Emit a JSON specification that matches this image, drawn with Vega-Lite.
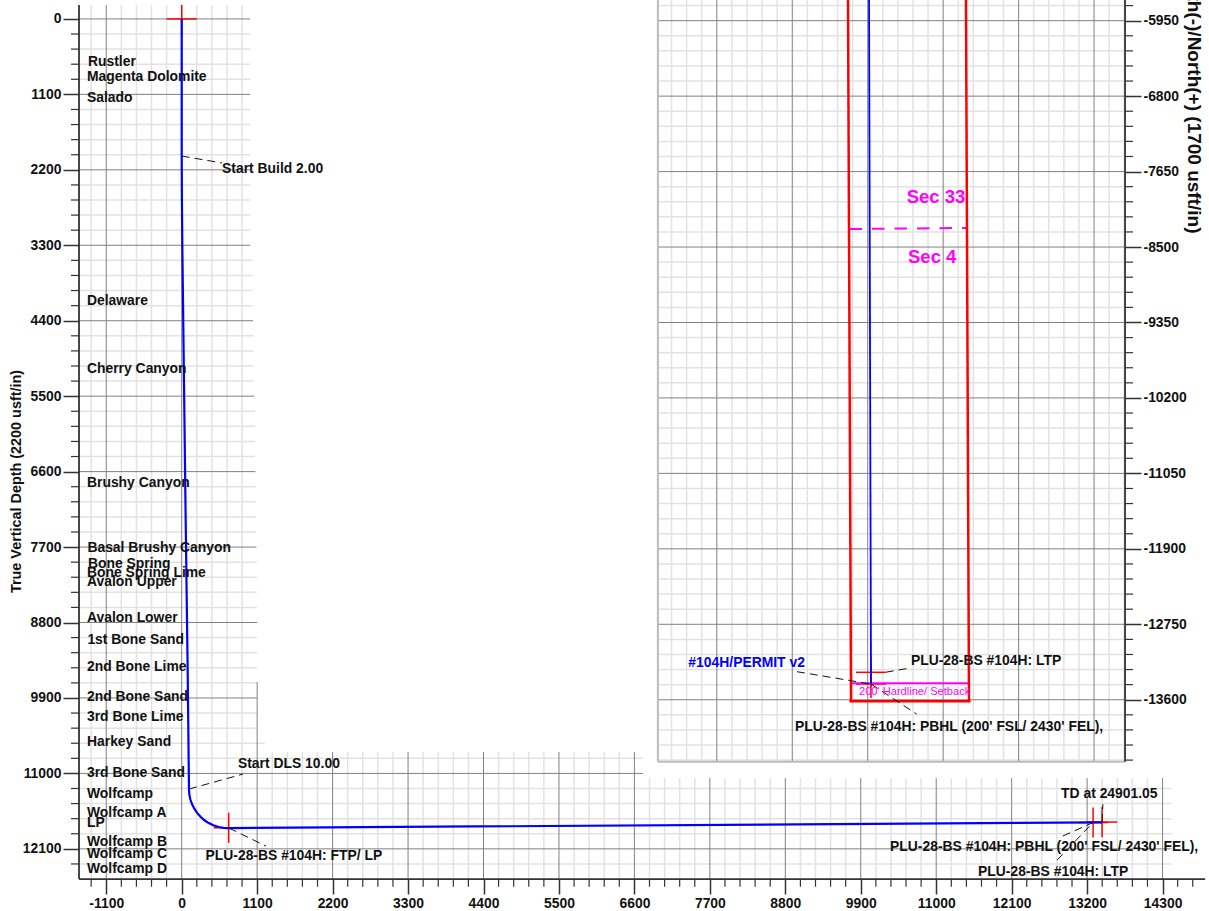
{"$schema":"https://vega.github.io/schema/vega-lite/v6.json","width":1209,"height":911,"padding":0,"autosize":"none","background":"white",
"config":{"view":{"stroke":null},"axis":{"labelFont":"Liberation Sans","labelFontWeight":"bold","labelFontSize":13.9,"labelColor":"#111","tickColor":"#333","tickWidth":1.5,"domain":false,"grid":false,"labelOverlap":false,"labelBound":false,"labelFlush":false,"titleFont":"Liberation Sans","titleFontWeight":"bold","titleColor":"#111"},"text":{"font":"Liberation Sans","fontWeight":"bold","fontSize":13.9,"align":"left","baseline":"middle","color":"#111"}},
"datasets":{
"mainHMinor":[{"y":220,"xa":-1497,"xb":997,"ta":-1614},{"y":440,"xa":-1497,"xb":997,"ta":-1614},{"y":660,"xa":-1497,"xb":997,"ta":-1614},{"y":880,"xa":-1497,"xb":997,"ta":-1614},{"y":1320,"xa":-1497,"xb":997,"ta":-1614},{"y":1540,"xa":-1497,"xb":997,"ta":-1614},{"y":1760,"xa":-1497,"xb":997,"ta":-1614},{"y":1980,"xa":-1497,"xb":997,"ta":-1614},{"y":2420,"xa":-1497,"xb":1000,"ta":-1614},{"y":2640,"xa":-1497,"xb":1000,"ta":-1614},{"y":2860,"xa":-1497,"xb":1000,"ta":-1614},{"y":3080,"xa":-1497,"xb":1000,"ta":-1614},{"y":3520,"xa":-1497,"xb":1030,"ta":-1614},{"y":3740,"xa":-1497,"xb":1030,"ta":-1614},{"y":3960,"xa":-1497,"xb":1030,"ta":-1614},{"y":4180,"xa":-1497,"xb":1030,"ta":-1614},{"y":4620,"xa":-1497,"xb":1050,"ta":-1614},{"y":4840,"xa":-1497,"xb":1050,"ta":-1614},{"y":5060,"xa":-1497,"xb":1050,"ta":-1614},{"y":5280,"xa":-1497,"xb":1050,"ta":-1614},{"y":5720,"xa":-1497,"xb":1070,"ta":-1614},{"y":5940,"xa":-1497,"xb":1070,"ta":-1614},{"y":6160,"xa":-1497,"xb":1070,"ta":-1614},{"y":6380,"xa":-1497,"xb":1070,"ta":-1614},{"y":6820,"xa":-1497,"xb":1085,"ta":-1614},{"y":7040,"xa":-1497,"xb":1085,"ta":-1614},{"y":7260,"xa":-1497,"xb":1085,"ta":-1614},{"y":7480,"xa":-1497,"xb":1085,"ta":-1614},{"y":7920,"xa":-1497,"xb":1095,"ta":-1614},{"y":8140,"xa":-1497,"xb":1095,"ta":-1614},{"y":8360,"xa":-1497,"xb":1095,"ta":-1614},{"y":8580,"xa":-1497,"xb":1095,"ta":-1614},{"y":9020,"xa":-1497,"xb":1100,"ta":-1614},{"y":9240,"xa":-1497,"xb":1100,"ta":-1614},{"y":9460,"xa":-1497,"xb":1100,"ta":-1614},{"y":9680,"xa":-1497,"xb":1100,"ta":-1614},{"y":10120,"xa":-1497,"xb":1100,"ta":-1614},{"y":10340,"xa":-1497,"xb":1100,"ta":-1614},{"y":10560,"xa":-1497,"xb":1210,"ta":-1614},{"y":10780,"xa":-1497,"xb":6725,"ta":-1614},{"y":11220,"xa":-1497,"xb":14430,"ta":-1614},{"y":11440,"xa":-1497,"xb":14430,"ta":-1614},{"y":11660,"xa":-1497,"xb":14430,"ta":-1614},{"y":11880,"xa":-1497,"xb":14430,"ta":-1614},{"y":12320,"xa":-1497,"xb":14430,"ta":-1614}],
"mainHMajor":[{"y":0,"xa":-1497,"xb":997},{"y":1100,"xa":-1497,"xb":997},{"y":2200,"xa":-1497,"xb":997},{"y":3300,"xa":-1497,"xb":1000},{"y":4400,"xa":-1497,"xb":1040},{"y":5500,"xa":-1497,"xb":1060},{"y":6600,"xa":-1497,"xb":1075},{"y":7700,"xa":-1497,"xb":1090},{"y":8800,"xa":-1497,"xb":1100},{"y":9900,"xa":-1497,"xb":1100},{"y":11000,"xa":-1497,"xb":6725},{"y":12100,"xa":-1497,"xb":14430}],
"mainVMinor":[{"x":-1320,"ya":-202,"yb":12540,"tb":12652},{"x":-880,"ya":-202,"yb":12540,"tb":12652},{"x":-660,"ya":-202,"yb":12540,"tb":12652},{"x":-440,"ya":-202,"yb":12540,"tb":12652},{"x":-220,"ya":-202,"yb":12540,"tb":12652},{"x":220,"ya":-202,"yb":12540,"tb":12652},{"x":440,"ya":-202,"yb":12540,"tb":12652},{"x":660,"ya":-202,"yb":12540,"tb":12652},{"x":880,"ya":-202,"yb":12540,"tb":12652},{"x":1320,"ya":10688,"yb":12540,"tb":12652},{"x":1540,"ya":10688,"yb":12540,"tb":12652},{"x":1760,"ya":10688,"yb":12540,"tb":12652},{"x":1980,"ya":10688,"yb":12540,"tb":12652},{"x":2420,"ya":10688,"yb":12540,"tb":12652},{"x":2640,"ya":10688,"yb":12540,"tb":12652},{"x":2860,"ya":10688,"yb":12540,"tb":12652},{"x":3080,"ya":10688,"yb":12540,"tb":12652},{"x":3520,"ya":10688,"yb":12540,"tb":12652},{"x":3740,"ya":10688,"yb":12540,"tb":12652},{"x":3960,"ya":10688,"yb":12540,"tb":12652},{"x":4180,"ya":10688,"yb":12540,"tb":12652},{"x":4620,"ya":10688,"yb":12540,"tb":12652},{"x":4840,"ya":10688,"yb":12540,"tb":12652},{"x":5060,"ya":10688,"yb":12540,"tb":12652},{"x":5280,"ya":10688,"yb":12540,"tb":12652},{"x":5720,"ya":10688,"yb":12540,"tb":12652},{"x":5940,"ya":10688,"yb":12540,"tb":12652},{"x":6160,"ya":10688,"yb":12540,"tb":12652},{"x":6380,"ya":10688,"yb":12540,"tb":12652},{"x":6820,"ya":11069,"yb":12540,"tb":12652},{"x":7040,"ya":11069,"yb":12540,"tb":12652},{"x":7260,"ya":11069,"yb":12540,"tb":12652},{"x":7480,"ya":11069,"yb":12540,"tb":12652},{"x":7920,"ya":11069,"yb":12540,"tb":12652},{"x":8140,"ya":11069,"yb":12540,"tb":12652},{"x":8360,"ya":11069,"yb":12540,"tb":12652},{"x":8580,"ya":11069,"yb":12540,"tb":12652},{"x":9020,"ya":11069,"yb":12540,"tb":12652},{"x":9240,"ya":11069,"yb":12540,"tb":12652},{"x":9460,"ya":11069,"yb":12540,"tb":12652},{"x":9680,"ya":11069,"yb":12540,"tb":12652},{"x":10120,"ya":11069,"yb":12540,"tb":12652},{"x":10340,"ya":11069,"yb":12540,"tb":12652},{"x":10560,"ya":11069,"yb":12540,"tb":12652},{"x":10780,"ya":11069,"yb":12540,"tb":12652},{"x":11220,"ya":11069,"yb":12540,"tb":12652},{"x":11440,"ya":11069,"yb":12540,"tb":12652},{"x":11660,"ya":11069,"yb":12540,"tb":12652},{"x":11880,"ya":11069,"yb":12540,"tb":12652},{"x":12320,"ya":11069,"yb":12540,"tb":12652},{"x":12540,"ya":11069,"yb":12540,"tb":12652},{"x":12760,"ya":11069,"yb":12540,"tb":12652},{"x":12980,"ya":11069,"yb":12540,"tb":12652},{"x":13420,"ya":11069,"yb":12540,"tb":12652},{"x":13640,"ya":11069,"yb":12540,"tb":12652},{"x":13860,"ya":11069,"yb":12540,"tb":12652},{"x":14080,"ya":11069,"yb":12540,"tb":12652}],
"mainVMajor":[{"x":-1100,"ya":-202,"yb":12540},{"x":0,"ya":-202,"yb":12540},{"x":1100,"ya":9668,"yb":12540},{"x":2200,"ya":10688,"yb":12540},{"x":3300,"ya":10688,"yb":12540},{"x":4400,"ya":10688,"yb":12540},{"x":5500,"ya":10688,"yb":12540},{"x":6600,"ya":10688,"yb":12540},{"x":7700,"ya":11069,"yb":12540},{"x":8800,"ya":11069,"yb":12540},{"x":9900,"ya":11069,"yb":12540},{"x":11000,"ya":11069,"yb":12540},{"x":12100,"ya":11069,"yb":12540},{"x":13200,"ya":11069,"yb":12540},{"x":14300,"ya":11069,"yb":12540}],
"planHMinor":[{"y":-5780,"xa":-2364,"xb":2899,"tb":2989},{"y":-6120,"xa":-2364,"xb":2899,"tb":2989},{"y":-6290,"xa":-2364,"xb":2899,"tb":2989},{"y":-6460,"xa":-2364,"xb":2899,"tb":2989},{"y":-6630,"xa":-2364,"xb":2899,"tb":2989},{"y":-6970,"xa":-2364,"xb":2899,"tb":2989},{"y":-7140,"xa":-2364,"xb":2899,"tb":2989},{"y":-7310,"xa":-2364,"xb":2899,"tb":2989},{"y":-7480,"xa":-2364,"xb":2899,"tb":2989},{"y":-7820,"xa":-2364,"xb":2899,"tb":2989},{"y":-7990,"xa":-2364,"xb":2899,"tb":2989},{"y":-8160,"xa":-2364,"xb":2899,"tb":2989},{"y":-8330,"xa":-2364,"xb":2899,"tb":2989},{"y":-8670,"xa":-2364,"xb":2899,"tb":2989},{"y":-8840,"xa":-2364,"xb":2899,"tb":2989},{"y":-9010,"xa":-2364,"xb":2899,"tb":2989},{"y":-9180,"xa":-2364,"xb":2899,"tb":2989},{"y":-9520,"xa":-2364,"xb":2899,"tb":2989},{"y":-9690,"xa":-2364,"xb":2899,"tb":2989},{"y":-9860,"xa":-2364,"xb":2899,"tb":2989},{"y":-10030,"xa":-2364,"xb":2899,"tb":2989},{"y":-10370,"xa":-2364,"xb":2899,"tb":2989},{"y":-10540,"xa":-2364,"xb":2899,"tb":2989},{"y":-10710,"xa":-2364,"xb":2899,"tb":2989},{"y":-10880,"xa":-2364,"xb":2899,"tb":2989},{"y":-11220,"xa":-2364,"xb":2899,"tb":2989},{"y":-11390,"xa":-2364,"xb":2899,"tb":2989},{"y":-11560,"xa":-2364,"xb":2899,"tb":2989},{"y":-11730,"xa":-2364,"xb":2899,"tb":2989},{"y":-12070,"xa":-2364,"xb":2899,"tb":2989},{"y":-12240,"xa":-2364,"xb":2899,"tb":2989},{"y":-12410,"xa":-2364,"xb":2899,"tb":2989},{"y":-12580,"xa":-2364,"xb":2899,"tb":2989},{"y":-12920,"xa":-2364,"xb":2899,"tb":2989},{"y":-13090,"xa":-2364,"xb":2899,"tb":2989},{"y":-13260,"xa":-2364,"xb":2899,"tb":2989},{"y":-13430,"xa":-2364,"xb":2899,"tb":2989},{"y":-13770,"xa":-2364,"xb":2899,"tb":2989},{"y":-13940,"xa":-2364,"xb":2899,"tb":2989},{"y":-14110,"xa":-2364,"xb":2899,"tb":2989},{"y":-14280,"xa":-2364,"xb":2899,"tb":2989}],
"planHMajor":[{"y":-5950,"xa":-2364,"xb":2899},{"y":-6800,"xa":-2364,"xb":2899},{"y":-7650,"xa":-2364,"xb":2899},{"y":-8500,"xa":-2364,"xb":2899},{"y":-9350,"xa":-2364,"xb":2899},{"y":-10200,"xa":-2364,"xb":2899},{"y":-11050,"xa":-2364,"xb":2899},{"y":-11900,"xa":-2364,"xb":2899},{"y":-12750,"xa":-2364,"xb":2899},{"y":-13600,"xa":-2364,"xb":2899}],
"planVMinor":[{"x":-2210,"ya":-5717,"yb":-14298},{"x":-2040,"ya":-5717,"yb":-14298},{"x":-1870,"ya":-5717,"yb":-14298},{"x":-1530,"ya":-5717,"yb":-14298},{"x":-1360,"ya":-5717,"yb":-14298},{"x":-1190,"ya":-5717,"yb":-14298},{"x":-1020,"ya":-5717,"yb":-14298},{"x":-680,"ya":-5717,"yb":-14298},{"x":-510,"ya":-5717,"yb":-14298},{"x":-340,"ya":-5717,"yb":-14298},{"x":-170,"ya":-5717,"yb":-14298},{"x":170,"ya":-5717,"yb":-14298},{"x":340,"ya":-5717,"yb":-14298},{"x":510,"ya":-5717,"yb":-14298},{"x":680,"ya":-5717,"yb":-14298},{"x":1020,"ya":-5717,"yb":-14298},{"x":1190,"ya":-5717,"yb":-14298},{"x":1360,"ya":-5717,"yb":-14298},{"x":1530,"ya":-5717,"yb":-14298},{"x":1870,"ya":-5717,"yb":-14298},{"x":2040,"ya":-5717,"yb":-14298},{"x":2210,"ya":-5717,"yb":-14298},{"x":2380,"ya":-5717,"yb":-14298},{"x":2720,"ya":-5717,"yb":-14298},{"x":2890,"ya":-5717,"yb":-14298}],
"planVMajor":[{"x":-1700,"ya":-5717,"yb":-14298},{"x":-850,"ya":-5717,"yb":-14298},{"x":0,"ya":-5717,"yb":-14298},{"x":850,"ya":-5717,"yb":-14298},{"x":1700,"ya":-5717,"yb":-14298},{"x":2550,"ya":-5717,"yb":-14298}]
},
"layer":[
{"data":{"name":"mainHMinor"},"mark":{"type":"rule","color":"#e2e2e2","strokeWidth":1.5},"encoding":{"x":{"field":"xa","type":"quantitative","scale":{"domain":[-2649,14977],"nice":false,"zero":false},"axis":null},"x2":{"field":"xb"},"y":{"field":"y","type":"quantitative","scale":{"domain":[-276,13006],"reverse":true,"nice":false,"zero":false},"axis":null}}},
{"data":{"name":"mainVMinor"},"mark":{"type":"rule","color":"#e2e2e2","strokeWidth":1.5},"encoding":{"x":{"field":"x","type":"quantitative","scale":{"domain":[-2649,14977],"nice":false,"zero":false},"axis":null},"y":{"field":"ya","type":"quantitative","scale":{"domain":[-276,13006],"reverse":true,"nice":false,"zero":false},"axis":null},"y2":{"field":"yb"}}},
{"data":{"name":"mainHMajor"},"mark":{"type":"rule","color":"#808080","strokeWidth":1},"encoding":{"x":{"field":"xa","type":"quantitative","scale":{"domain":[-2649,14977],"nice":false,"zero":false},"axis":null},"x2":{"field":"xb"},"y":{"field":"y","type":"quantitative","scale":{"domain":[-276,13006],"reverse":true,"nice":false,"zero":false},"axis":{"orient":"left","offset":-79,"values":[0,1100,2200,3300,4400,5500,6600,7700,8800,9900,11000,12100],"tickSize":16,"labelPadding":2,"labelExpr":"''+datum.value","title":"True Vertical Depth (2200 usft/in)","titleFontSize":14.4,"titleX":-63,"titleY":481,"titleAngle":270,"titleAlign":"center","titleBaseline":"middle"}}}},
{"data":{"name":"mainVMajor"},"mark":{"type":"rule","color":"#808080","strokeWidth":1},"encoding":{"x":{"field":"x","type":"quantitative","scale":{"domain":[-2649,14977],"nice":false,"zero":false},"axis":{"orient":"bottom","offset":-32,"values":[-1100,0,1100,2200,3300,4400,5500,6600,7700,8800,9900,11000,12100,13200,14300],"tickSize":15,"labelPadding":2,"labelExpr":"''+datum.value","title":null}},"y":{"field":"ya","type":"quantitative","scale":{"domain":[-276,13006],"reverse":true,"nice":false,"zero":false},"axis":null},"y2":{"field":"yb"}}},
{"data":{"name":"mainHMinor"},"mark":{"type":"rule","color":"#333","strokeWidth":1.2},"encoding":{"x":{"field":"ta","type":"quantitative","scale":{"domain":[-2649,14977],"nice":false,"zero":false},"axis":null},"x2":{"field":"xa"},"y":{"field":"y","type":"quantitative","scale":{"domain":[-276,13006],"reverse":true,"nice":false,"zero":false},"axis":null}}},
{"data":{"name":"mainVMinor"},"mark":{"type":"rule","color":"#333","strokeWidth":1.2},"encoding":{"x":{"field":"x","type":"quantitative","scale":{"domain":[-2649,14977],"nice":false,"zero":false},"axis":null},"y":{"field":"yb","type":"quantitative","scale":{"domain":[-276,13006],"reverse":true,"nice":false,"zero":false},"axis":null},"y2":{"field":"tb"}}},
{"data":{"values":[{"x":14520,"yb":12540,"tb":12652},{"x":14740,"yb":12540,"tb":12652}]},"mark":{"type":"rule","color":"#333","strokeWidth":1.2},"encoding":{"x":{"field":"x","type":"quantitative","scale":{"domain":[-2649,14977],"nice":false,"zero":false},"axis":null},"y":{"field":"yb","type":"quantitative","scale":{"domain":[-276,13006],"reverse":true,"nice":false,"zero":false},"axis":null},"y2":{"field":"tb"}}},
{"data":{"values":[{"xa":-1497,"xb":-1497,"ya":-202,"yb":12540},{"xa":-1497,"xb":14920,"ya":12540,"yb":12540}]},"mark":{"type":"rule","color":"#333","strokeWidth":1.8},"encoding":{"x":{"field":"xa","type":"quantitative","scale":{"domain":[-2649,14977],"nice":false,"zero":false},"axis":null},"x2":{"field":"xb"},"y":{"field":"ya","type":"quantitative","scale":{"domain":[-276,13006],"reverse":true,"nice":false,"zero":false},"axis":null},"y2":{"field":"yb"}}},
{"data":{"values":[{"xa":-220,"xb":220,"ya":0,"yb":0},{"xa":0,"xb":0,"ya":-205,"yb":220},{"xa":465,"xb":905,"ya":11792,"yb":11792},{"xa":685,"xb":685,"ya":11572,"yb":12012},{"xa":13067,"xb":13507,"ya":11716,"yb":11716},{"xa":13287,"xb":13287,"ya":11496,"yb":11936},{"xa":13198,"xb":13638,"ya":11709,"yb":11709},{"xa":13418,"xb":13418,"ya":11489,"yb":11929}]},"mark":{"type":"rule","color":"#ff0000","strokeWidth":1.5},"encoding":{"x":{"field":"xa","type":"quantitative","scale":{"domain":[-2649,14977],"nice":false,"zero":false},"axis":null},"x2":{"field":"xb"},"y":{"field":"ya","type":"quantitative","scale":{"domain":[-276,13006],"reverse":true,"nice":false,"zero":false},"axis":null},"y2":{"field":"yb"}}},
{"data":{"values":[{"i":1,"x":0,"y":0},{"i":2,"x":0,"y":1999},{"i":3,"x":3,"y":2640},{"i":4,"x":9,"y":3300},{"i":5,"x":58,"y":7305},{"i":6,"x":87,"y":9492},{"i":7,"x":106,"y":11228},{"i":8,"x":111,"y":11302},{"i":9,"x":125,"y":11377},{"i":10,"x":150,"y":11447},{"i":11,"x":184,"y":11515},{"i":12,"x":225,"y":11575},{"i":13,"x":274,"y":11633},{"i":14,"x":331,"y":11683},{"i":15,"x":394,"y":11724},{"i":16,"x":461,"y":11757},{"i":17,"x":541,"y":11782},{"i":18,"x":608,"y":11794},{"i":19,"x":685,"y":11797},{"i":20,"x":13418,"y":11713}]},"mark":{"type":"line","color":"#0000ff","strokeWidth":2.2},"encoding":{"x":{"field":"x","type":"quantitative","scale":{"domain":[-2649,14977],"nice":false,"zero":false},"axis":null},"y":{"field":"y","type":"quantitative","scale":{"domain":[-276,13006],"reverse":true,"nice":false,"zero":false},"axis":null},"order":{"field":"i","type":"quantitative"}}},
{"data":{"values":[{"xa":0,"xb":588,"ya":1999,"yb":2100},{"xa":106,"xb":894,"ya":11228,"yb":11010},{"xa":690,"xb":1230,"ya":11797,"yb":12060},{"xa":13418,"xb":13430,"ya":11709,"yb":11449},{"xa":12845,"xb":13287,"ya":11913,"yb":11716},{"xa":12762,"xb":13287,"ya":12264,"yb":11716}]},"mark":{"type":"rule","color":"#111","strokeWidth":1,"strokeDash":[8,5]},"encoding":{"x":{"field":"xa","type":"quantitative","scale":{"domain":[-2649,14977],"nice":false,"zero":false},"axis":null},"x2":{"field":"xb"},"y":{"field":"ya","type":"quantitative","scale":{"domain":[-276,13006],"reverse":true,"nice":false,"zero":false},"axis":null},"y2":{"field":"yb"}}},
{"data":{"values":[{"x":-1366,"y":621,"t":"Rustler"},{"x":-1381,"y":847,"t":"Magenta Dolomite"},{"x":-1381,"y":1146,"t":"Salado"},{"x":-1381,"y":4106,"t":"Delaware"},{"x":-1381,"y":5104,"t":"Cherry Canyon"},{"x":-1381,"y":6759,"t":"Brushy Canyon"},{"x":-1375,"y":7707,"t":"Basal Brushy Canyon"},{"x":-1366,"y":7940,"t":"Bone Spring"},{"x":-1381,"y":8079,"t":"Bone Spring Lime"},{"x":-1381,"y":8210,"t":"Avalon Upper"},{"x":-1381,"y":8735,"t":"Avalon Lower"},{"x":-1375,"y":9055,"t":"1st Bone Sand"},{"x":-1381,"y":9449,"t":"2nd Bone Lime"},{"x":-1381,"y":9882,"t":"2nd Bone Sand"},{"x":-1381,"y":10174,"t":"3rd Bone Lime"},{"x":-1381,"y":10535,"t":"Harkey Sand"},{"x":-1381,"y":10990,"t":"3rd Bone Sand"},{"x":-1381,"y":11301,"t":"Wolfcamp"},{"x":-1381,"y":11570,"t":"Wolfcamp A"},{"x":-1381,"y":11723,"t":"LP"},{"x":-1381,"y":12000,"t":"Wolfcamp B"},{"x":-1381,"y":12175,"t":"Wolfcamp C"},{"x":-1381,"y":12394,"t":"Wolfcamp D"},{"x":588,"y":2188,"t":"Start Build 2.00"},{"x":820,"y":10865,"t":"Start DLS 10.00"},{"x":347,"y":12205,"t":"PLU-28-BS #104H: FTP/ LP"},{"x":12820,"y":11300,"t":"TD at 24901.05"},{"x":10327,"y":12073,"t":"PLU-28-BS #104H: PBHL (200' FSL/ 2430' FEL),"},{"x":11610,"y":12431,"t":"PLU-28-BS #104H: LTP"}]},"mark":{"type":"text"},"encoding":{"x":{"field":"x","type":"quantitative","scale":{"domain":[-2649,14977],"nice":false,"zero":false},"axis":null},"y":{"field":"y","type":"quantitative","scale":{"domain":[-276,13006],"reverse":true,"nice":false,"zero":false},"axis":null},"text":{"field":"t","type":"nominal"}}},
{"data":{"name":"planHMinor"},"mark":{"type":"rule","color":"#e2e2e2","strokeWidth":1.5},"encoding":{"x":{"field":"xa","type":"quantitative","scale":{"domain":[-9776,3845],"nice":false,"zero":false},"axis":null},"x2":{"field":"xb"},"y":{"field":"y","type":"quantitative","scale":{"domain":[-15980,-5717],"nice":false,"zero":false},"axis":null}}},
{"data":{"name":"planVMinor"},"mark":{"type":"rule","color":"#e2e2e2","strokeWidth":1.5},"encoding":{"x":{"field":"x","type":"quantitative","scale":{"domain":[-9776,3845],"nice":false,"zero":false},"axis":null},"y":{"field":"ya","type":"quantitative","scale":{"domain":[-15980,-5717],"nice":false,"zero":false},"axis":null},"y2":{"field":"yb"}}},
{"data":{"name":"planHMajor"},"mark":{"type":"rule","color":"#808080","strokeWidth":1},"encoding":{"x":{"field":"xa","type":"quantitative","scale":{"domain":[-9776,3845],"nice":false,"zero":false},"axis":null},"x2":{"field":"xb"},"y":{"field":"y","type":"quantitative","scale":{"domain":[-15980,-5717],"nice":false,"zero":false},"axis":{"orient":"right","offset":-84,"values":[-5950,-6800,-7650,-8500,-9350,-10200,-11050,-11900,-12750,-13600],"tickSize":16,"labelPadding":2,"labelExpr":"''+datum.value","title":"South(-)/North(+) (1700 usft/in)","titleFontSize":19,"titleX":68,"titleY":233,"titleAngle":90,"titleAlign":"right","titleBaseline":"middle"}}}},
{"data":{"name":"planVMajor"},"mark":{"type":"rule","color":"#808080","strokeWidth":1},"encoding":{"x":{"field":"x","type":"quantitative","scale":{"domain":[-9776,3845],"nice":false,"zero":false},"axis":null},"y":{"field":"ya","type":"quantitative","scale":{"domain":[-15980,-5717],"nice":false,"zero":false},"axis":null},"y2":{"field":"yb"}}},
{"data":{"name":"planHMinor"},"mark":{"type":"rule","color":"#333","strokeWidth":1.2},"encoding":{"x":{"field":"xb","type":"quantitative","scale":{"domain":[-9776,3845],"nice":false,"zero":false},"axis":null},"x2":{"field":"tb"},"y":{"field":"y","type":"quantitative","scale":{"domain":[-15980,-5717],"nice":false,"zero":false},"axis":null}}},
{"data":{"values":[{"xa":-2364,"xb":-2364,"ya":-5717,"yb":-14298},{"xa":-2364,"xb":2899,"ya":-14298,"yb":-14298}]},"mark":{"type":"rule","color":"#bbbbbb","strokeWidth":2},"encoding":{"x":{"field":"xa","type":"quantitative","scale":{"domain":[-9776,3845],"nice":false,"zero":false},"axis":null},"x2":{"field":"xb"},"y":{"field":"ya","type":"quantitative","scale":{"domain":[-15980,-5717],"nice":false,"zero":false},"axis":null},"y2":{"field":"yb"}}},
{"data":{"values":[{"xa":2899,"xb":2899,"ya":-5717,"yb":-14298}]},"mark":{"type":"rule","color":"#333","strokeWidth":1.8},"encoding":{"x":{"field":"xa","type":"quantitative","scale":{"domain":[-9776,3845],"nice":false,"zero":false},"axis":null},"x2":{"field":"xb"},"y":{"field":"ya","type":"quantitative","scale":{"domain":[-15980,-5717],"nice":false,"zero":false},"axis":null},"y2":{"field":"yb"}}},
{"data":{"values":[{"xa":-132,"xb":203,"ya":-13291,"yb":-13291},{"xa":36,"xb":36,"ya":-13120,"yb":-13460},{"xa":-133,"xb":207,"ya":-13423,"yb":-13423},{"xa":37,"xb":37,"ya":-13253,"yb":-13580}]},"mark":{"type":"rule","color":"#ff0000","strokeWidth":1.5},"encoding":{"x":{"field":"xa","type":"quantitative","scale":{"domain":[-9776,3845],"nice":false,"zero":false},"axis":null},"x2":{"field":"xb"},"y":{"field":"ya","type":"quantitative","scale":{"domain":[-15980,-5717],"nice":false,"zero":false},"axis":null},"y2":{"field":"yb"}}},
{"data":{"values":[{"xa":-188,"xb":1141,"ya":-13415,"yb":-13415}]},"mark":{"type":"rule","color":"#ff00ff","strokeWidth":2},"encoding":{"x":{"field":"xa","type":"quantitative","scale":{"domain":[-9776,3845],"nice":false,"zero":false},"axis":null},"x2":{"field":"xb"},"y":{"field":"ya","type":"quantitative","scale":{"domain":[-15980,-5717],"nice":false,"zero":false},"axis":null},"y2":{"field":"yb"}}},
{"data":{"values":[{"xa":-205,"xb":1118,"ya":-8297,"yb":-8285}]},"mark":{"type":"rule","color":"#ff00ff","strokeWidth":2,"strokeDash":[12.5,10]},"encoding":{"x":{"field":"xa","type":"quantitative","scale":{"domain":[-9776,3845],"nice":false,"zero":false},"axis":null},"x2":{"field":"xb"},"y":{"field":"ya","type":"quantitative","scale":{"domain":[-15980,-5717],"nice":false,"zero":false},"axis":null},"y2":{"field":"yb"}}},
{"data":{"values":[{"xa":-222,"xb":-188,"ya":-5717,"yb":-13618},{"xa":1107,"xb":1141,"ya":-5717,"yb":-13618},{"xa":-205,"xb":1158,"ya":-13618,"yb":-13618}]},"mark":{"type":"rule","color":"#ff0000","strokeWidth":2.5},"encoding":{"x":{"field":"xa","type":"quantitative","scale":{"domain":[-9776,3845],"nice":false,"zero":false},"axis":null},"x2":{"field":"xb"},"y":{"field":"ya","type":"quantitative","scale":{"domain":[-15980,-5717],"nice":false,"zero":false},"axis":null},"y2":{"field":"yb"}}},
{"data":{"values":[{"xa":15,"xb":37,"ya":-5717,"yb":-13423}]},"mark":{"type":"rule","color":"#0000ff","strokeWidth":1.8},"encoding":{"x":{"field":"xa","type":"quantitative","scale":{"domain":[-9776,3845],"nice":false,"zero":false},"axis":null},"x2":{"field":"xb"},"y":{"field":"ya","type":"quantitative","scale":{"domain":[-15980,-5717],"nice":false,"zero":false},"axis":null},"y2":{"field":"yb"}}},
{"data":{"values":[{"xa":-797,"xb":37,"ya":-13284,"yb":-13423},{"xa":203,"xb":464,"ya":-13290,"yb":-13245},{"xa":37,"xb":552,"ya":-13423,"yb":-13762}]},"mark":{"type":"rule","color":"#111","strokeWidth":1,"strokeDash":[8,5]},"encoding":{"x":{"field":"xa","type":"quantitative","scale":{"domain":[-9776,3845],"nice":false,"zero":false},"axis":null},"x2":{"field":"xb"},"y":{"field":"ya","type":"quantitative","scale":{"domain":[-15980,-5717],"nice":false,"zero":false},"axis":null},"y2":{"field":"yb"}}},
{"data":{"values":[{"x":487,"y":-13164,"t":"PLU-28-BS #104H: LTP"},{"x":-820,"y":-13910,"t":"PLU-28-BS #104H: PBHL (200' FSL/ 2430' FEL),"}]},"mark":{"type":"text"},"encoding":{"x":{"field":"x","type":"quantitative","scale":{"domain":[-9776,3845],"nice":false,"zero":false},"axis":null},"y":{"field":"y","type":"quantitative","scale":{"domain":[-15980,-5717],"nice":false,"zero":false},"axis":null},"text":{"field":"t","type":"nominal"}}},
{"data":{"values":[{"x":-2021,"y":-13183,"t":"#104H/PERMIT v2"}]},"mark":{"type":"text","color":"#0000ff"},"encoding":{"x":{"field":"x","type":"quantitative","scale":{"domain":[-9776,3845],"nice":false,"zero":false},"axis":null},"y":{"field":"y","type":"quantitative","scale":{"domain":[-15980,-5717],"nice":false,"zero":false},"axis":null},"text":{"field":"t","type":"nominal"}}},
{"data":{"values":[{"x":439,"y":-7933,"t":"Sec 33"},{"x":454,"y":-8612,"t":"Sec 4"}]},"mark":{"type":"text","color":"#ff00ff","fontSize":18.5},"encoding":{"x":{"field":"x","type":"quantitative","scale":{"domain":[-9776,3845],"nice":false,"zero":false},"axis":null},"y":{"field":"y","type":"quantitative","scale":{"domain":[-15980,-5717],"nice":false,"zero":false},"axis":null},"text":{"field":"t","type":"nominal"}}},
{"data":{"values":[{"x":-98,"y":-13516,"t":"200' Hardline/ Setback"}]},"mark":{"type":"text","color":"#ff00ff","font":"Liberation Sans","fontWeight":"normal","fontSize":11.1},"encoding":{"x":{"field":"x","type":"quantitative","scale":{"domain":[-9776,3845],"nice":false,"zero":false},"axis":null},"y":{"field":"y","type":"quantitative","scale":{"domain":[-15980,-5717],"nice":false,"zero":false},"axis":null},"text":{"field":"t","type":"nominal"}}}
],
"resolve":{"scale":{"x":"independent","y":"independent"},"axis":{"x":"independent","y":"independent"}}}
